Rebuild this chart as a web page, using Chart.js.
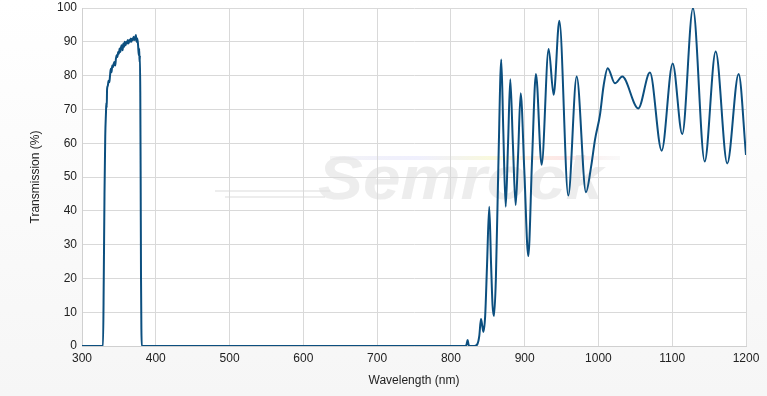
<!DOCTYPE html>
<html>
<head>
<meta charset="utf-8">
<script src="https://cdn.jsdelivr.net/npm/chart.js@4/dist/chart.umd.min.js"></script>
<style>
    html, body { margin: 0; padding: 0; background: #ffffff; }
    #wrap { width: 767px; height: 396px; }
</style>
</head>
<body>
<div id="wrap"><canvas id="transmissionGraph" width="767" height="396"></canvas></div>
<script>
/* UV pass band (nm / %) */
const uvWavelength = [300, 328.5, 329.5, 330.5, 331.5, 332.5, 333, 333.5, 334, 335, 336, 337, 338, 339, 340,
    341, 342, 343, 344, 345, 346, 347, 348, 349, 350, 351, 352, 353, 354, 355, 356, 357, 358, 359, 360,
    361, 362, 363, 364, 365, 366, 367, 368, 369, 370, 371, 372, 373, 374, 375, 376, 377, 377.5, 378,
    378.5, 379, 379.5, 380, 380.5, 381];
const uvTransmission = [0, 0, 20, 45, 62, 69, 72, 70.5, 76, 77, 78.5, 78, 80, 82, 81,
    83, 82.5, 83.5, 84, 83, 85, 86, 85.5, 87, 86.5, 88, 87, 88.5, 89, 87.5, 89.5, 88.5, 90, 89, 90,
    89.5, 90.5, 89.5, 90.5, 90, 91, 90, 91, 90.5, 91.5, 90.5, 91, 92, 90, 91, 89, 86, 88, 84,
    86, 75, 50, 20, 5, 0];

/* NIR edge and ripple (nm / %) */
const nirWavelength = [818, 821, 822.7, 824, 826, 832, 836, 838.5, 840.8, 842.5, 844, 846.5, 849, 852, 854.5,
    856.5, 858.4, 861, 864.5, 868.3, 871, 874.3, 877.5, 880.5, 884, 887.8, 891, 894.6, 899.5, 904.9,
    910, 915.3, 923, 932.5, 939.3, 947, 959.1, 970.5, 983.1, 990, 995.3, 1002, 1007, 1012.5, 1022.4,
    1032.3, 1054, 1069.8, 1085.7, 1100.6, 1113.6, 1128.1, 1144, 1158.9, 1174.6, 1190, 1200];
const nirTransmission = [0, 0.3, 1.8, 0.3, 0, 0, 0.6, 3, 8, 6, 4.2, 9, 24, 41.2, 24,
    12, 8.9, 20, 55, 84.8, 64, 41.2, 60, 78.9, 60, 41.7, 56, 74.8, 52, 26.6,
    55, 80.5, 53.6, 87.9, 74.3, 96.2, 44.5, 79.7, 45.5, 53, 61, 68.3, 77, 82.2, 77.7,
    79.7, 70.3, 80.9, 57.8, 83.6, 62.7, 99.9, 54.6, 87.1, 54, 80.5, 56.5];

const xTicks = [300, 400, 500, 600, 700, 800, 900, 1000, 1100, 1200];

const wavelength = uvWavelength.concat(nirWavelength);
const transmission = uvTransmission.concat(nirTransmission);
const points = wavelength.map((w, i) => ({x: w, y: transmission[i]}));

//Background, white plot area and faint watermark
const backdropPlugin = {
    id: 'backdrop',
    beforeDraw(chart) {
        const ctx = chart.ctx;
        const area = chart.chartArea;
        ctx.save();
        const g = ctx.createLinearGradient(0, 0, 0, chart.height);
        g.addColorStop(0, '#ffffff');
        g.addColorStop(1, '#f6f6f6');
        ctx.fillStyle = g;
        ctx.fillRect(0, 0, chart.width, chart.height);
        ctx.fillStyle = '#ffffff';
        ctx.fillRect(area.left, area.top, area.right - area.left, area.bottom - area.top);

        //watermark
        const rb = ctx.createLinearGradient(330, 0, 620, 0);
        rb.addColorStop(0, 'rgba(235,235,235,0.5)');
        rb.addColorStop(0.3, 'rgba(205,205,250,0.3)');
        rb.addColorStop(0.55, 'rgba(240,240,170,0.4)');
        rb.addColorStop(0.8, 'rgba(250,195,195,0.4)');
        rb.addColorStop(1, 'rgba(235,235,235,0.3)');
        ctx.fillStyle = rb;
        ctx.fillRect(330, 156, 290, 4);
        ctx.font = 'italic bold 62px "Liberation Sans", Arial, sans-serif';
        ctx.fillStyle = 'rgba(222,222,222,0.55)';
        ctx.textBaseline = 'alphabetic';
        const w = ctx.measureText('Semrock').width;
        ctx.save();
        ctx.translate(318, 199);
        ctx.scale(285 / w, 1);
        ctx.fillText('Semrock', 0, 0);
        ctx.restore();
        ctx.strokeStyle = 'rgba(225,225,225,0.6)';
        ctx.lineWidth = 2;
        ctx.beginPath();
        ctx.moveTo(215, 191);
        ctx.lineTo(330, 191);
        ctx.moveTo(225, 197);
        ctx.lineTo(325, 197);
        ctx.stroke();
        ctx.restore();
    }
};

const transmissionGraphConfig = {
    type: 'line',
    data: {
        datasets: [{
            label: 'Transmission',
            data: points,
            borderColor: '#0c4f7f',
            borderWidth: 2,
            pointRadius: 0,
            cubicInterpolationMode: 'monotone',
            fill: false
        }]
    },
    options: {
        responsive: false,
        animation: false,
        layout: {
            padding: {left: 24, right: 21, top: 8, bottom: 4}
        },
        plugins: {
            legend: {display: false},
            tooltip: {enabled: false}
        },
        scales: {
            x: {
                type: 'linear',
                min: 300,
                max: 1200,
                afterBuildTicks: (scale) => {
                    scale.ticks = xTicks.map(v => ({value: v}));
                },
                afterFit: (scale) => {
                    scale.height = 46;
                    scale.paddingLeft = 0;
                    scale.paddingRight = 0;
                },
                grid: {color: '#d9d9d9', tickLength: 0, drawTicks: false},
                border: {color: '#d0d0d0'},
                ticks: {
                    color: '#222',
                    padding: 5,
                    maxRotation: 0,
                    callback: (v) => String(v),
                    font: {family: '"Liberation Sans", Arial, sans-serif', size: 12}
                },
                title: {
                    display: true,
                    text: 'Wavelength (nm)',
                    color: '#222',
                    padding: {top: 4, bottom: 4},
                    font: {family: '"Liberation Sans", Arial, sans-serif', size: 12}
                }
            },
            y: {
                min: 0,
                max: 100,
                afterFit: (scale) => {
                    scale.width = 58;
                    scale.paddingTop = 0;
                    scale.paddingBottom = 0;
                },
                grid: {color: '#d9d9d9', tickLength: 0, drawTicks: false},
                border: {color: '#d0d0d0'},
                ticks: {
                    stepSize: 10,
                    color: '#222',
                    padding: 5,
                    font: {family: '"Liberation Sans", Arial, sans-serif', size: 12}
                },
                title: {
                    display: true,
                    text: 'Transmission (%)',
                    color: '#222',
                    padding: {top: 4, bottom: 4},
                    font: {family: '"Liberation Sans", Arial, sans-serif', size: 12}
                }
            }
        }
    },
    plugins: [backdropPlugin]
};

var transmissionChart = new Chart(
    document.getElementById("transmissionGraph"),
    transmissionGraphConfig
);
</script>
</body>
</html>
